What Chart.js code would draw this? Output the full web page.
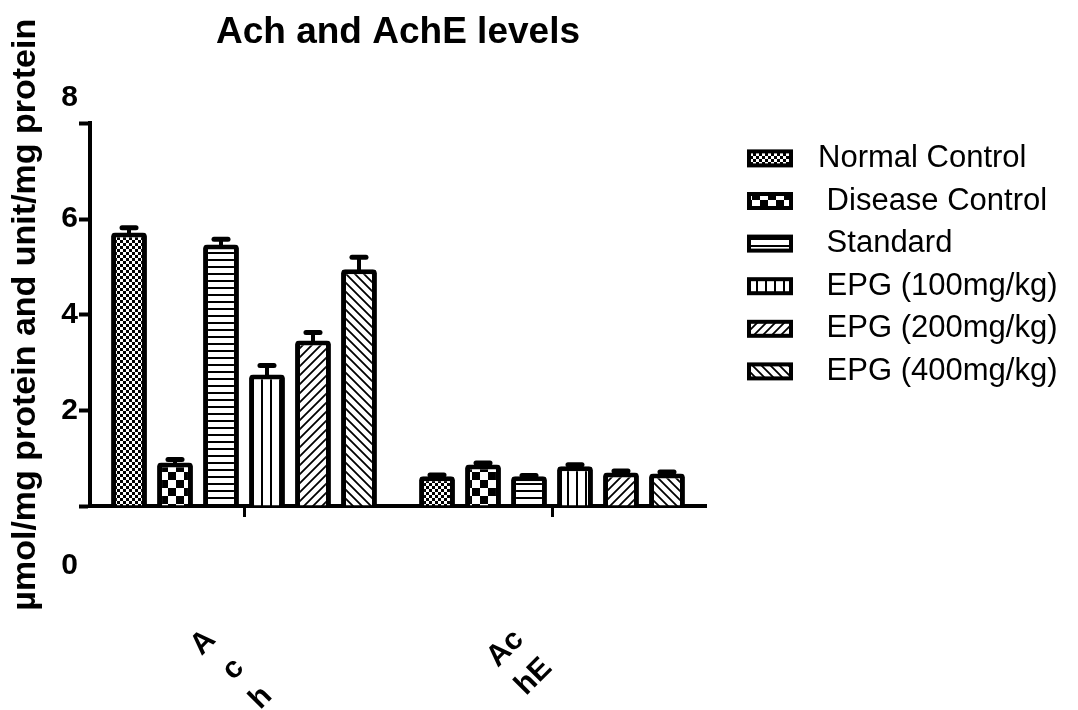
<!DOCTYPE html>
<html>
<head>
<meta charset="utf-8">
<script src="https://cdn.jsdelivr.net/npm/chart.js@4.4.0/dist/chart.umd.min.js"></script>
<style>
  body { margin: 0; background: #fff; }
  #chartdiv { width: 1078px; height: 710px; }
</style>
</head>
<body>
<div id="chartdiv"><canvas id="chart" width="1078" height="710"></canvas></div>
<script>
const groups = [['A', 'c', 'h'], ['Ac', 'hE']]
const seriesNames = ['Normal Control', ' Disease Control', ' Standard', ' EPG (100mg/kg)', ' EPG (200mg/kg)', ' EPG (400mg/kg)']

const normalControl = [5.72, 0.62]
const diseaseControl = [0.91, 0.87]
const standard = [5.47, 0.62]
const epg100 = [2.75, 0.83]
const epg200 = [3.46, 0.70]
const epg400 = [4.95, 0.68]

const normalControlErr = [0.10, 0.03]
const diseaseControlErr = [0.06, 0.03]
const standardErr = [0.11, 0.02]
const epg100Err = [0.19, 0.03]
const epg200Err = [0.17, 0.03]
const epg400Err = [0.25, 0.03]

const yTicks = [0, 2, 4, 6, 8]

const FONT = "'Liberation Sans', Arial, sans-serif"

const makePattern = (kind) => {
  const c = document.createElement('canvas')
  const sizes = { fine: [6, 6], big: [16, 16], hline: [8, 7], vline: [9, 8], up: [9, 9], down: [9, 9] }
  c.width = sizes[kind][0]
  c.height = sizes[kind][1]
  const g = c.getContext('2d')
  g.fillStyle = '#fff'
  g.fillRect(0, 0, c.width, c.height)
  g.fillStyle = '#000'
  g.strokeStyle = '#000'
  g.lineWidth = 1.8
  if (kind == 'fine') {
    g.fillRect(0, 0, 3, 3)
    g.fillRect(3, 3, 3, 3)
  }
  if (kind == 'big') {
    g.fillRect(0, 0, 8, 8)
    g.fillRect(8, 8, 8, 8)
  }
  if (kind == 'hline') {
    g.fillRect(0, 0, 8, 2)
  }
  if (kind == 'vline') {
    g.fillRect(0, 0, 2, 8)
  }
  if (kind == 'up') {
    g.beginPath()
    g.moveTo(0, 9); g.lineTo(9, 0)
    g.moveTo(-1, 1); g.lineTo(1, -1)
    g.moveTo(8, 10); g.lineTo(10, 8)
    g.stroke()
  }
  if (kind == 'down') {
    g.beginPath()
    g.moveTo(0, 0); g.lineTo(9, 9)
    g.moveTo(-1, 8); g.lineTo(1, 10)
    g.moveTo(8, -1); g.lineTo(10, 1)
    g.stroke()
  }
  return g.createPattern(c, 'repeat')
}

const fills = ['fine', 'big', 'hline', 'vline', 'up', 'down'].map(makePattern)
const values = [normalControl, diseaseControl, standard, epg100, epg200, epg400]
const errors = [normalControlErr, diseaseControlErr, standardErr, epg100Err, epg200Err, epg400Err]

const errorBars = {
  id: 'errorBars',
  afterDatasetsDraw(chart) {
    const ctx = chart.ctx
    const y = chart.scales.y
    chart.data.datasets.forEach((ds, i) => {
      chart.getDatasetMeta(i).data.forEach((bar, j) => {
        const top = y.getPixelForValue(ds.data[j] + ds.errors[j])
        ctx.save()
        ctx.strokeStyle = '#000'
        ctx.lineWidth = 4
        ctx.beginPath()
        ctx.moveTo(bar.x, bar.y + 2)
        ctx.lineTo(bar.x, top)
        ctx.stroke()
        ctx.lineWidth = 5
        ctx.lineCap = 'round'
        ctx.beginPath()
        ctx.moveTo(bar.x - 7, top)
        ctx.lineTo(bar.x + 7, top)
        ctx.stroke()
        ctx.restore()
      })
    })
  }
}

// tick numbers of the original sit oddly: 8 above its tick, 0 well below the baseline
const yLabels = {
  id: 'yLabels',
  afterDraw(chart) {
    const ctx = chart.ctx
    const y = chart.scales.y
    const nudge = { 8: -26, 0: 60 }
    ctx.save()
    ctx.font = 'bold 30px ' + FONT
    ctx.fillStyle = '#000'
    ctx.textAlign = 'right'
    ctx.textBaseline = 'middle'
    for (let v of yTicks) {
      ctx.fillText(String(v), chart.chartArea.left - 12, y.getPixelForValue(v) + (nudge[v] || 0))
    }
    ctx.restore()
  }
}

const sideLegend = {
  id: 'sideLegend',
  afterDraw(chart) {
    const ctx = chart.ctx
    const x0 = chart.chartArea.right + 41
    ctx.save()
    ctx.font = '31px ' + FONT
    ctx.textBaseline = 'middle'
    ctx.textAlign = 'left'
    chart.data.datasets.forEach((ds, i) => {
      const yc = chart.chartArea.top + 35 + i * 42.6
      ctx.fillStyle = '#000'
      ctx.fillRect(x0, yc - 9, 46, 18)
      ctx.fillStyle = ds.backgroundColor
      ctx.fillRect(x0 + 4, yc - 5, 38, 10)
      ctx.fillStyle = '#000'
      ctx.fillText(ds.label, x0 + 71, yc)
    })
    ctx.restore()
  }
}

const data = {
  labels: groups,
  datasets: seriesNames.map((name, i) => ({
    label: name,
    data: values[i],
    errors: errors[i],
    backgroundColor: fills[i],
    borderColor: '#000',
    borderWidth: 5,
    borderRadius: { topLeft: 4, topRight: 4 },
    categoryPercentage: 0.896,
    barPercentage: 0.78
  }))
}

const config = {
  type: 'bar',
  data: data,
  options: {
    responsive: false,
    animation: false,
    layout: { padding: { left: 0, right: 372, top: 0, bottom: 0 } },
    plugins: {
      legend: { display: false },
      tooltip: { enabled: false },
      title: {
        display: true,
        fullSize: false,
        text: 'Ach and AchE levels',
        color: '#000',
        font: { family: FONT, size: 37, weight: 'bold' },
        padding: { top: 11, bottom: 68 }
      }
    },
    scales: {
      x: {
        offset: true,
        grid: { drawOnChartArea: false, offset: false, tickLength: 11, tickWidth: 3, tickColor: '#000' },
        border: { color: '#000', width: 4 },
        ticks: {
          autoSkip: false,
          minRotation: 45,
          maxRotation: 45,
          padding: 104,
          labelOffset: -33,
          color: '#000',
          font: { family: FONT, size: 30, weight: 'bold', lineHeight: 1.33 }
        },
        afterFit: (s) => { s.height = 204 }
      },
      y: {
        min: 0,
        max: 8,
        grid: { drawOnChartArea: false, tickLength: 11, tickWidth: 4, tickColor: '#000' },
        border: { color: '#000', width: 4 },
        ticks: { stepSize: 2, display: false },
        title: {
          display: true,
          text: 'µmol/mg protein and unit/mg protein',
          color: '#000',
          font: { family: FONT, size: 34, weight: 'bold' },
          padding: { top: 5, bottom: 0 }
        },
        afterFit: (s) => { s.width = 90 }
      }
    }
  },
  plugins: [errorBars, yLabels, sideLegend]
}

const mychart = new Chart(document.getElementById('chart').getContext('2d'), config)
</script>
</body>
</html>
